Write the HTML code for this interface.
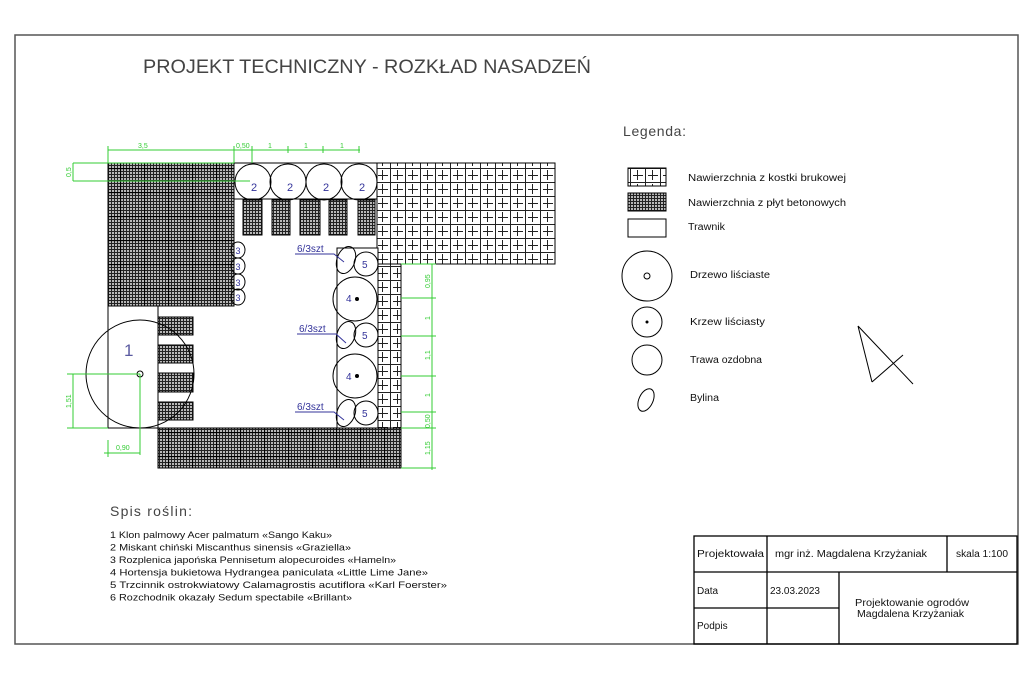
<!DOCTYPE html>
<html><head><meta charset="utf-8"><style>
html,body{margin:0;padding:0;background:#fff;}
svg{display:block;}
text{font-family:"Liberation Sans",sans-serif;}
</style></head><body>
<svg width="1024" height="684" viewBox="0 0 1024 684" xmlns="http://www.w3.org/2000/svg">
<defs>
<pattern id="dk" width="6" height="6" patternUnits="userSpaceOnUse">
<rect width="6" height="6" fill="#b8b8b8"/>
<path d="M0.5 0V6M3.5 0V6M0 0.5H6M0 3.5H6" stroke="#222" stroke-width="1"/>
</pattern>
<pattern id="dk2" width="24" height="24" patternUnits="userSpaceOnUse">
<rect width="24" height="24" fill="url(#dk)"/>
<path d="M0.5 0V24M0 0.5H24" stroke="#000" stroke-width="1.2"/>
</pattern>
<pattern id="lt" width="15" height="14" patternUnits="userSpaceOnUse">
<rect width="15" height="14" fill="#fff"/>
<path d="M0.5 0V14M0 0.5H15M7.5 2V12M3 7.5H13" stroke="#222" stroke-width="1"/>
</pattern>
</defs>
<rect width="1024" height="684" fill="#fff"/>
<path d="M15 644V35H1018V644Z" fill="none" stroke="#555" stroke-width="1.5"/>
<text x="143" y="73" font-size="19" textLength="448" lengthAdjust="spacingAndGlyphs" fill="#444">PROJEKT TECHNICZNY - ROZKŁAD NASADZEŃ</text>

<rect x="108" y="163" width="126" height="143" fill="url(#dk2)" stroke="#000"/>
<rect x="377" y="163" width="178" height="101" fill="url(#lt)" stroke="#000"/>
<rect x="378" y="264" width="23" height="164" fill="url(#lt)" stroke="#000"/>
<rect x="158" y="428" width="243" height="40" fill="url(#dk2)" stroke="#000"/>
<path d="M234 163H377V199H234Z" fill="#fff" stroke="#000"/>
<g fill="url(#dk)" stroke="#000">
<rect x="243" y="200" width="19" height="35"/><rect x="272" y="200" width="18" height="35"/>
<rect x="300" y="200" width="20" height="35"/><rect x="329" y="200" width="18" height="35"/>
<rect x="358" y="200" width="17" height="35"/>
<rect x="158" y="317" width="35" height="18"/><rect x="158" y="345" width="35" height="18"/>
<rect x="158" y="373" width="35" height="19"/><rect x="158" y="402" width="35" height="18"/>
</g>
<path d="M108 306V428H401M158 306V428M234 199V306" fill="none" stroke="#000"/>
<rect x="337" y="248" width="41" height="180" fill="#fff" stroke="#000"/>
<g fill="none" stroke="#000">
<circle cx="253" cy="182" r="18"/><circle cx="288" cy="182" r="18"/><circle cx="324" cy="182" r="18"/><circle cx="359" cy="182" r="18"/>
<circle cx="140" cy="374" r="54"/>
<circle cx="140" cy="374" r="3" fill="#fff"/>
<ellipse cx="238" cy="250" rx="7" ry="8"/><ellipse cx="238" cy="266" rx="7" ry="8"/><ellipse cx="238" cy="282" rx="7" ry="8"/><ellipse cx="238" cy="297" rx="7" ry="8"/>
<circle cx="355" cy="299" r="22"/><circle cx="355" cy="376" r="22"/>
<circle cx="366" cy="264" r="12"/><circle cx="366" cy="335" r="12"/><circle cx="366" cy="413" r="12"/>
<ellipse cx="346" cy="260" rx="9" ry="14" transform="rotate(20 346 260)"/>
<ellipse cx="346" cy="335" rx="9" ry="14" transform="rotate(20 346 335)"/>
<ellipse cx="346" cy="413" rx="9" ry="14" transform="rotate(20 346 413)"/>
</g>
<circle cx="357" cy="299" r="2" fill="#000"/><circle cx="357" cy="376" r="2" fill="#000"/>
<g fill="#33339a" font-size="11">
<text x="254" y="191" text-anchor="middle">2</text><text x="290" y="191" text-anchor="middle">2</text><text x="326" y="191" text-anchor="middle">2</text><text x="362" y="191" text-anchor="middle">2</text>
<text x="238" y="254" text-anchor="middle" font-size="9">3</text><text x="238" y="270" text-anchor="middle" font-size="9">3</text><text x="238" y="286" text-anchor="middle" font-size="9">3</text><text x="238" y="301" text-anchor="middle" font-size="9">3</text>
<text x="346" y="302" font-size="10">4</text><text x="346" y="380" font-size="10">4</text>
<text x="362" y="268" font-size="10">5</text><text x="362" y="339" font-size="10">5</text><text x="362" y="417" font-size="10">5</text>
<text x="124" y="356" font-size="17" fill="#5a5aa0">1</text>
<text x="297" y="252" font-size="10">6/3szt</text><text x="299" y="332" font-size="10">6/3szt</text><text x="297" y="410" font-size="10">6/3szt</text>
</g>
<g stroke="#33339a" fill="none">
<path d="M295 254H334L344 262M297 334H336L346 343M295 412H334L344 420"/>
</g>
<g stroke="#3c3" fill="none" stroke-width="1">
<path d="M108 150H360M108 146V163M234 146V163M252 146V163M288 146V153M323 146V153M359 146V153"/>
<path d="M73 163H234M73 181H250M73 163V181"/>
<path d="M67 374H140M73 374V428M67 428H108M140 374V455M104 453H140M108 440V457"/>
<path d="M432 264V470M401 264H436M401 298H436M401 336H436M401 376H436M401 412H436M401 428H436M401 468H436"/>
</g>
<g fill="#3c3" font-size="7">
<text x="138" y="148">3,5</text><text x="236" y="148">0,50</text><text x="268" y="148">1</text><text x="304" y="148">1</text><text x="340" y="148">1</text>
<text x="116" y="450">0,90</text>
<text transform="translate(71 177) rotate(-90)">0,5</text>
<text transform="translate(71 408) rotate(-90)">1,51</text>
<text transform="translate(430 288) rotate(-90)">0,95</text>
<text transform="translate(430 320) rotate(-90)">1</text>
<text transform="translate(430 360) rotate(-90)">1,1</text>
<text transform="translate(430 397) rotate(-90)">1</text>
<text transform="translate(430 428) rotate(-90)">0,50</text>
<text transform="translate(430 455) rotate(-90)">1,15</text>
</g>

<text x="623" y="136" font-size="14" fill="#444" textLength="63">Legenda:</text>
<rect x="628" y="168" width="38" height="18" fill="url(#lt)" stroke="#000"/>
<rect x="628" y="193" width="38" height="18" fill="url(#dk)" stroke="#000"/>
<rect x="628" y="219" width="38" height="18" fill="#fff" stroke="#000"/>
<g fill="none" stroke="#000">
<circle cx="647" cy="276" r="25"/><circle cx="647" cy="276" r="3"/>
<circle cx="647" cy="322" r="15"/><circle cx="647" cy="360" r="15"/>
<ellipse cx="646" cy="400" rx="7" ry="12" transform="rotate(25 646 400)"/>
<path d="M858 326L872 382M858 326L913 384M872 382L903 355"/>
</g>
<circle cx="647" cy="322" r="1.5" fill="#000"/>
<g font-size="10" fill="#111">
<text x="688" y="181" textLength="158" lengthAdjust="spacingAndGlyphs">Nawierzchnia z kostki brukowej</text>
<text x="688" y="206" textLength="158" lengthAdjust="spacingAndGlyphs">Nawierzchnia z płyt betonowych</text>
<text x="688" y="230" textLength="37" lengthAdjust="spacingAndGlyphs">Trawnik</text>
<text x="690" y="278" textLength="80" lengthAdjust="spacingAndGlyphs">Drzewo liściaste</text>
<text x="690" y="325" textLength="75" lengthAdjust="spacingAndGlyphs">Krzew liściasty</text>
<text x="690" y="363" textLength="72" lengthAdjust="spacingAndGlyphs">Trawa ozdobna</text>
<text x="690" y="401" textLength="29" lengthAdjust="spacingAndGlyphs">Bylina</text>
</g>

<text x="110" y="516" font-size="14" fill="#444" textLength="82">Spis roślin:</text>
<g font-size="9.5" fill="#111" lengthAdjust="spacingAndGlyphs">
<text x="110" y="538" textLength="222" lengthAdjust="spacingAndGlyphs">1 Klon palmowy Acer palmatum «Sango Kaku»</text>
<text x="110" y="550.5" textLength="241" lengthAdjust="spacingAndGlyphs">2 Miskant chiński Miscanthus sinensis «Graziella»</text>
<text x="110" y="563" textLength="286" lengthAdjust="spacingAndGlyphs">3 Rozplenica japońska Pennisetum alopecuroides «Hameln»</text>
<text x="110" y="575.5" textLength="318" lengthAdjust="spacingAndGlyphs">4 Hortensja bukietowa Hydrangea paniculata «Little Lime Jane»</text>
<text x="110" y="588" textLength="337" lengthAdjust="spacingAndGlyphs">5 Trzcinnik ostrokwiatowy  Calamagrostis acutiflora «Karl Foerster»</text>
<text x="110" y="600.5" textLength="242" lengthAdjust="spacingAndGlyphs">6 Rozchodnik okazały Sedum spectabile «Brillant»</text>
</g>

<g fill="none" stroke="#000" stroke-width="1.3">
<rect x="694" y="536" width="323" height="108"/>
<path d="M694 572H1017M694 608H839M767 536V644M947 536V572M839 572V644"/>
</g>
<g font-size="10" fill="#111">
<text x="697" y="557" textLength="67" lengthAdjust="spacingAndGlyphs">Projektowała</text>
<text x="775" y="557" textLength="152" lengthAdjust="spacingAndGlyphs">mgr inż. Magdalena Krzyżaniak</text>
<text x="956" y="557" textLength="52" lengthAdjust="spacingAndGlyphs">skala 1:100</text>
<text x="697" y="594">Data</text>
<text x="770" y="594" textLength="50" lengthAdjust="spacingAndGlyphs">23.03.2023</text>
<text x="697" y="629">Podpis</text>
<text x="855" y="606" textLength="114" lengthAdjust="spacingAndGlyphs">Projektowanie ogrodów</text>
<text x="857" y="617" textLength="107" lengthAdjust="spacingAndGlyphs">Magdalena Krzyżaniak</text>
</g>
</svg>
</body></html>
